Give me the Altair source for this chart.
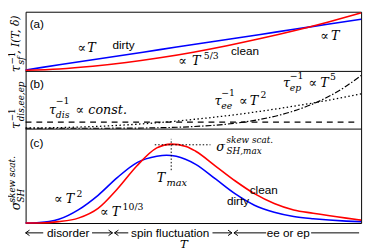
import altair as alt
import pandas as pd

# ---------------- data (normalised T on x, normalised rates on y) ----------------
# Panel (a): spin-flip rate
a_t = [0.0, 0.1, 0.2, 0.3, 0.4, 0.5, 0.6, 0.7, 0.8, 0.9, 1.0]
a_dirty = [0.025, 0.11, 0.195, 0.28, 0.365, 0.45, 0.535, 0.62, 0.705, 0.79, 0.874]
a_clean = [0.02, 0.041, 0.086, 0.149, 0.228, 0.322, 0.43, 0.55, 0.681, 0.825, 0.98]

# Panel (b): scattering rates
b_dis_t = [0.0, 0.98]
b_dis = [0.12, 0.12]
b_ee_t = [0.0, 0.1, 0.2, 0.3, 0.4, 0.5, 0.6, 0.7, 0.8, 0.9, 1.0]
b_ee = [0.02, 0.026, 0.044, 0.073, 0.114, 0.168, 0.232, 0.309, 0.398, 0.498, 0.61]
b_ep_t = [0.0, 0.1, 0.2, 0.3, 0.4, 0.5, 0.6, 0.7, 0.8, 0.85, 0.9, 0.95, 1.0]
b_ep = [0.015, 0.015, 0.015, 0.017, 0.024, 0.044, 0.086, 0.169, 0.315, 0.421, 0.555, 0.723, 0.93]

# Panel (c): skew-scattering spin Hall conductivity
c_dirty_t = [0.0, 0.041, 0.070, 0.099, 0.157, 0.216, 0.274, 0.332, 0.391, 0.420, 0.449,
             0.507, 0.566, 0.624, 0.682, 0.741, 0.799, 0.857, 0.956, 1.0]
c_dirty = [0.0, 0.005, 0.016, 0.04, 0.14, 0.295, 0.486, 0.643, 0.711, 0.722, 0.711,
           0.625, 0.469, 0.3125, 0.19, 0.115, 0.07, 0.045, 0.02, 0.015]
c_clean_t = [0.0, 0.041, 0.099, 0.157, 0.216, 0.274, 0.332, 0.391, 0.434, 0.478, 0.507,
             0.566, 0.624, 0.682, 0.741, 0.799, 0.857, 0.956, 1.0]
c_clean = [0.0, 0.001, 0.015, 0.052, 0.156, 0.365, 0.61, 0.8, 0.84, 0.816, 0.764,
           0.607, 0.45, 0.3125, 0.208, 0.139, 0.104, 0.052, 0.031]
t_max = 0.434
sigma_max = 0.833
tmax_marker_v = [0.5625, 0.896]
smax_marker_t = [0.385, 0.551]

# Regime bar below panel (c)
regime_labels = ["disorder", "spin fluctuation", "ee or ep"]
regime_centers = [0.127, 0.431, 0.783]
regime_shafts = [(0.0, 0.0525), (0.198, 0.259), (0.265, 0.306), (0.557, 0.615), (0.621, 0.717), (0.851, 0.994)]
regime_heads_left = [0.0, 0.265, 0.621]
regime_heads_right = [0.259, 0.615]
regime_v = -0.105

# ---------------- layout ----------------
W, H = 343, 216
xs = alt.Scale(domain=[0, 1], nice=False, zero=False)
ya = alt.Scale(domain=[0, 1], range=[61, 0], nice=False, zero=False)
yb = alt.Scale(domain=[0, 1], range=[120, 61], nice=False, zero=False)
yc = alt.Scale(domain=[0, 1], range=[216, 120], nice=False, zero=False)

BLUE, RED = "#0000ff", "#ff0000"
MATH = "DejaVu Serif"
SANS = "Liberation Sans"

# rotated axis-title columns (sup / main / sub), in x data units
X_SUP, X_MAIN, X_SUB = -0.041, -0.028, -0.015


def line(t, v, ys, color, width=1.6, dash=None):
    kw = dict(color=color, strokeWidth=width, interpolate="monotone")
    if dash:
        kw["strokeDash"] = dash
    df = pd.DataFrame({"t": t, "v": v})
    return alt.Chart(df).mark_line(**kw).encode(
        x=alt.X("t:Q", scale=xs, axis=None), y=alt.Y("v:Q", scale=ys, axis=None))


def hrule(x1, x2, y, ys, dash=None, width=1.0):
    kw = dict(color="black", strokeWidth=width)
    if dash:
        kw["strokeDash"] = dash
    df = pd.DataFrame({"x": [x1], "x2": [x2], "y": [y]})
    return alt.Chart(df).mark_rule(**kw).encode(
        x=alt.X("x:Q", scale=xs, axis=None), x2="x2:Q", y=alt.Y("y:Q", scale=ys, axis=None))


def vrule(x, y1, y2, ys, dash=None, width=1.0):
    kw = dict(color="black", strokeWidth=width)
    if dash:
        kw["strokeDash"] = dash
    df = pd.DataFrame({"x": [x], "y": [y1], "y2": [y2]})
    return alt.Chart(df).mark_rule(**kw).encode(
        x=alt.X("x:Q", scale=xs, axis=None), y=alt.Y("y:Q", scale=ys, axis=None), y2="y2:Q")


KINDS = {
    "math": dict(font=MATH, fontStyle="italic", align="left"),
    "sym": dict(font=MATH, fontStyle="normal", align="left"),
    "sans": dict(font=SANS, fontStyle="normal", align="left"),
    "sansc": dict(font=SANS, fontStyle="normal", align="center"),
    "mathc": dict(font=MATH, fontStyle="italic", align="center"),
}


def texts(pieces, ys):
    out = []
    for kind, style in KINDS.items():
        rows = [p for p in pieces if p[0] == kind]
        if not rows:
            continue
        df = pd.DataFrame(rows, columns=["kind", "text", "x", "y", "size", "angle"])
        out.append(alt.Chart(df).mark_text(baseline="middle", color="black", **style).encode(
            x=alt.X("x:Q", scale=xs, axis=None),
            y=alt.Y("y:Q", scale=ys, axis=None),
            text="text:N",
            size=alt.Size("size:Q", scale=None),
            angle=alt.Angle("angle:Q", scale=None)))
    return out


ann_a = [
    ("sans", "(a)", 0.012, 0.80, 12, 0),
    ("sym", "∝", 0.155, 0.39, 13, 0), ("math", "T", 0.184, 0.39, 13, 0),
    ("sans", "dirty", 0.259, 0.443, 12, 0),
    ("sans", "clean", 0.612, 0.344, 12, 0),
    ("sym", "∝", 0.455, 0.18, 13, 0), ("math", "T", 0.496, 0.18, 13, 0),
    ("sym", "5/3", 0.531, 0.262, 9.5, 0),
    ("sym", "∝", 0.878, 0.59, 13, 0), ("math", "T", 0.910, 0.59, 13, 0),
    ("math", "τ", X_MAIN, -0.016, 13, 270),
    ("sym", "−1", X_SUP, 0.115, 9, 270),
    ("math", "sf", X_SUB, 0.115, 9, 270),
    ("math", ", I(T, δ)", X_MAIN, 0.295, 11, 270),
]
ann_b = [
    ("sans", "(b)", 0.012, 0.78, 12, 0),
    ("math", "τ", 0.07, 0.322, 13, 0), ("sym", "−1", 0.09, 0.49, 9.5, 0),
    ("math", "dis", 0.09, 0.237, 9.5, 0), ("sym", "∝", 0.149, 0.322, 13, 0),
    ("math", "const.", 0.187, 0.322, 13, 0),
    ("math", "τ", 0.563, 0.49, 13, 0), ("sym", "−1", 0.583, 0.627, 9.5, 0),
    ("math", "ee", 0.583, 0.407, 9.5, 0), ("sym", "∝", 0.636, 0.49, 13, 0),
    ("math", "T", 0.668, 0.49, 13, 0), ("sym", "2", 0.70, 0.593, 9.5, 0),
    ("math", "τ", 0.767, 0.797, 13, 0), ("sym", "−1", 0.787, 0.915, 9.5, 0),
    ("math", "ep", 0.787, 0.712, 9.5, 0), ("sym", "∝", 0.843, 0.797, 13, 0),
    ("math", "T", 0.878, 0.797, 13, 0), ("sym", "5", 0.907, 0.898, 9.5, 0),
    ("math", "τ", X_MAIN, 0.0, 13, 270),
    ("sym", "−1", X_SUP, 0.135, 9, 270),
    ("math", "dis,ee,ep", X_SUB, 0.135, 9, 270),
]
ann_c = [
    ("sans", "(c)", 0.012, 0.854, 12, 0),
    ("math", "σ", 0.568, 0.8125, 13, 0),
    ("math", "skew scat.", 0.599, 0.885, 9, 0),
    ("math", "SH,max", 0.599, 0.77, 9, 0),
    ("math", "T", 0.391, 0.474, 13, 0), ("math", "max", 0.42, 0.427, 10, 0),
    ("sym", "∝", 0.085, 0.25, 13, 0), ("math", "T", 0.12, 0.25, 13, 0),
    ("sym", "2", 0.152, 0.3125, 9.5, 0),
    ("sym", "∝", 0.222, 0.115, 13, 0), ("math", "T", 0.257, 0.115, 13, 0),
    ("sym", "10/3", 0.289, 0.167, 9.5, 0),
    ("sans", "clean", 0.668, 0.354, 12, 0),
    ("sans", "dirty", 0.60, 0.229, 12, 0),
    ("math", "σ", X_MAIN, 0.135, 13, 270),
    ("math", "SH", X_SUB, 0.219, 9, 270),
    ("math", "skew scat.", X_SUP, 0.219, 9, 270),
    ("mathc", "T", 0.472, -0.229, 12, 0),
]
ann_c += [("sansc", lab, cx, regime_v, 12, 0) for lab, cx in zip(regime_labels, regime_centers)]

layers = []
# panel separators
layers.append(hrule(0, 1, 0, ya))
layers.append(hrule(0, 1, 0, yb))
# (a)
layers.append(line(a_t, a_dirty, ya, BLUE))
layers.append(line(a_t, a_clean, ya, RED))
# (b)
layers.append(line(b_dis_t, b_dis, yb, "black", 1.2, [6, 5]))
layers.append(line(b_ee_t, b_ee, yb, "black", 1.3, [1.5, 2.5]))
layers.append(line(b_ep_t, b_ep, yb, "black", 1.2, [6, 2, 1.5, 2]))
# (c)
layers.append(line(c_dirty_t, c_dirty, yc, BLUE))
layers.append(line(c_clean_t, c_clean, yc, RED))
layers.append(vrule(t_max, tmax_marker_v[0], tmax_marker_v[1], yc, [1.5, 2]))
layers.append(hrule(smax_marker_t[0], smax_marker_t[1], sigma_max, yc, [1.5, 2]))
# regime arrows
for x1, x2 in regime_shafts:
    layers.append(hrule(x1, x2, regime_v, yc))
for pts, path in [(regime_heads_left, "M1,-0.7L0,0L1,0.7"), (regime_heads_right, "M-1,-0.7L0,0L-1,0.7")]:
    df = pd.DataFrame({"x": pts, "y": [regime_v] * len(pts)})
    layers.append(alt.Chart(df).mark_point(shape=path, filled=False, color="black", strokeWidth=1,
                                           size=64, opacity=1).encode(
        x=alt.X("x:Q", scale=xs, axis=None), y=alt.Y("y:Q", scale=yc, axis=None)))
layers += texts(ann_a, ya) + texts(ann_b, yb) + texts(ann_c, yc)

chart = alt.layer(*layers).resolve_scale(y="independent").properties(
    width=W, height=H,
    autosize=alt.AutoSizeParams(type="none"),
    padding={"left": 18, "top": 1, "right": 5, "bottom": 35},
).configure_view(stroke="black", strokeWidth=1)

chart.save("out.html", embed_options={"renderer": "svg", "actions": False})
